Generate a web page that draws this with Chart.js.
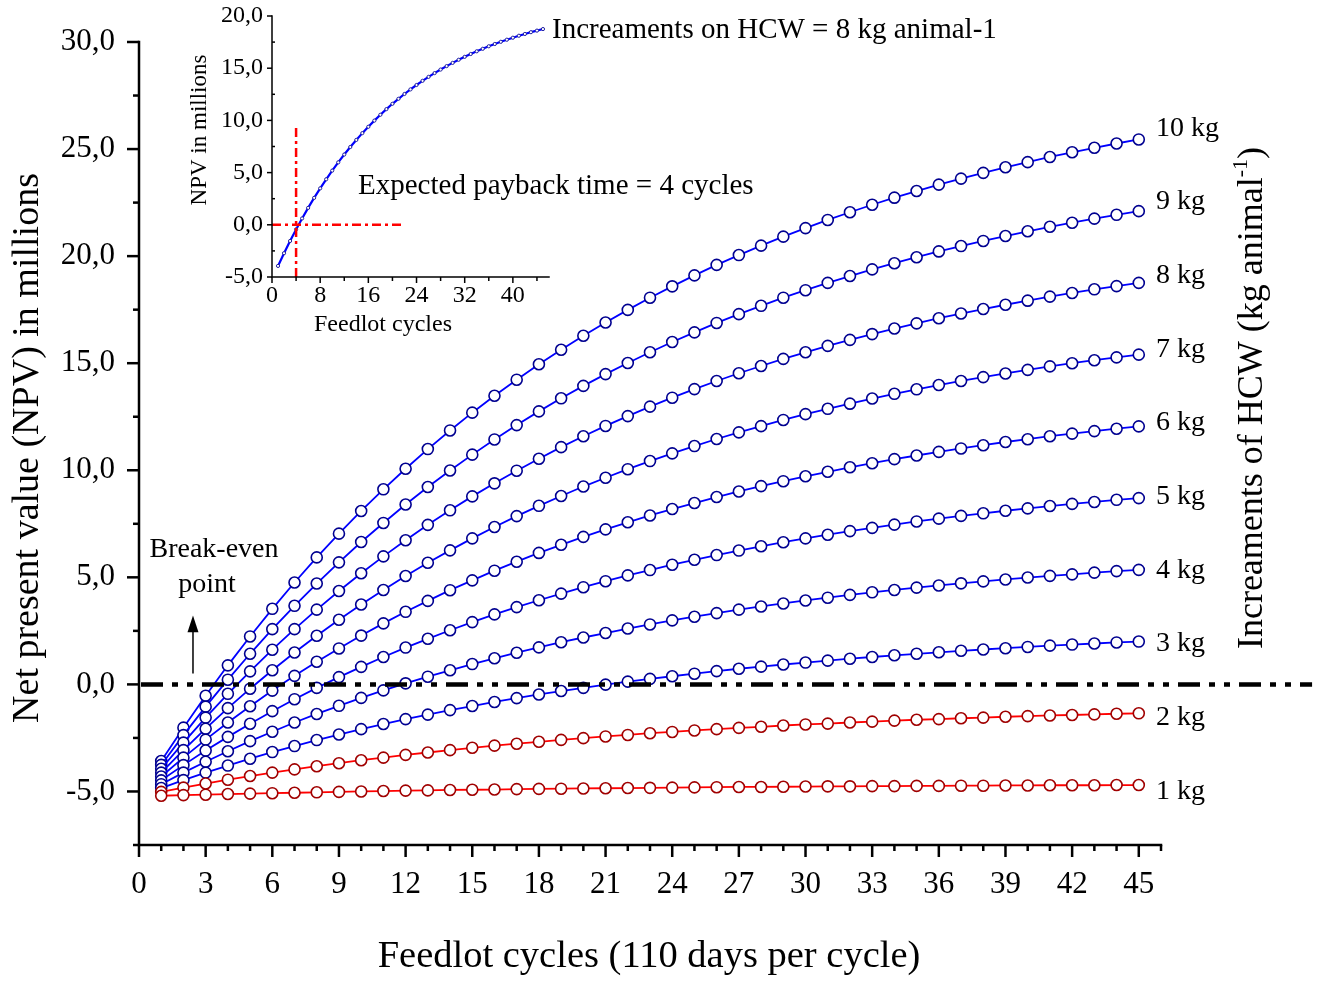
<!DOCTYPE html>
<html>
<head>
<meta charset="utf-8">
<script src="https://cdn.jsdelivr.net/npm/chart.js@4.4.1/dist/chart.umd.min.js"></script>
<style>
  html, body { margin: 0; padding: 0; background: #fff; }
  #wrap { position: relative; width: 1325px; height: 984px; }
  #main { position: absolute; left: 0; top: 0; width: 1325px; height: 984px; }
  #inset { position: absolute; left: 180px; top: 0; width: 400px; height: 345px; }
</style>
</head>
<body>
<div id="wrap">
  <canvas id="main" width="1325" height="984"></canvas>
  <canvas id="inset" width="400" height="345"></canvas>
</div>
<script>
// feedlot cycles (110 days each)
var cycles = [1, 2, 3, 4, 5, 6, 7, 8, 9, 10, 11, 12, 13, 14, 15, 16, 17, 18, 19, 20,
  21, 22, 23, 24, 25, 26, 27, 28, 29, 30, 31, 32, 33, 34, 35, 36, 37, 38, 39, 40,
  41, 42, 43, 44, 45];

// NPV in millions, one array per HCW increment
var kg1 = [-5.20, -5.17, -5.15, -5.12, -5.10, -5.08, -5.06, -5.04, -5.02, -5.00,
  -4.98, -4.96, -4.95, -4.93, -4.92, -4.91, -4.89, -4.88, -4.87, -4.86,
  -4.85, -4.84, -4.83, -4.82, -4.81, -4.80, -4.79, -4.79, -4.78, -4.77,
  -4.76, -4.76, -4.75, -4.75, -4.74, -4.74, -4.73, -4.73, -4.72, -4.72,
  -4.71, -4.71, -4.71, -4.70, -4.70];
var kg2 = [-5.02, -4.82, -4.63, -4.45, -4.28, -4.12, -3.97, -3.82, -3.68, -3.54,
  -3.42, -3.29, -3.18, -3.07, -2.96, -2.86, -2.77, -2.68, -2.59, -2.51,
  -2.43, -2.36, -2.28, -2.22, -2.15, -2.09, -2.03, -1.98, -1.92, -1.87,
  -1.83, -1.78, -1.74, -1.69, -1.65, -1.62, -1.58, -1.55, -1.51, -1.48,
  -1.45, -1.43, -1.40, -1.37, -1.35];
var kg3 = [-4.84, -4.47, -4.12, -3.79, -3.47, -3.16, -2.88, -2.60, -2.34, -2.09,
  -1.85, -1.62, -1.41, -1.20, -1.01, -0.82, -0.64, -0.47, -0.31, -0.16,
  -0.01, 0.13, 0.26, 0.38, 0.50, 0.62, 0.73, 0.83, 0.93, 1.02,
  1.11, 1.20, 1.28, 1.36, 1.43, 1.50, 1.57, 1.63, 1.69, 1.75,
  1.81, 1.86, 1.91, 1.96, 2.00];
var kg4 = [-4.66, -4.12, -3.61, -3.12, -2.65, -2.21, -1.78, -1.38, -1.00, -0.63,
  -0.28, 0.05, 0.36, 0.66, 0.95, 1.22, 1.48, 1.73, 1.97, 2.19,
  2.40, 2.61, 2.80, 2.99, 3.16, 3.33, 3.49, 3.64, 3.78, 3.92,
  4.05, 4.18, 4.30, 4.41, 4.52, 4.62, 4.72, 4.81, 4.90, 4.99,
  5.07, 5.14, 5.22, 5.29, 5.35];
var kg5 = [-4.48, -3.77, -3.09, -2.45, -1.84, -1.25, -0.69, -0.16, 0.34, 0.82,
  1.28, 1.72, 2.13, 2.53, 2.91, 3.27, 3.61, 3.93, 4.24, 4.54,
  4.82, 5.09, 5.34, 5.59, 5.82, 6.04, 6.25, 6.45, 6.64, 6.82,
  6.99, 7.16, 7.31, 7.46, 7.61, 7.74, 7.87, 7.99, 8.11, 8.22,
  8.33, 8.43, 8.52, 8.62, 8.70];
var kg6 = [-4.30, -3.42, -2.58, -1.78, -1.02, -0.29, 0.40, 1.06, 1.68, 2.28,
  2.85, 3.39, 3.90, 4.40, 4.86, 5.31, 5.73, 6.14, 6.52, 6.89,
  7.24, 7.57, 7.89, 8.19, 8.47, 8.75, 9.01, 9.26, 9.49, 9.72,
  9.93, 10.14, 10.33, 10.52, 10.69, 10.86, 11.02, 11.17, 11.32, 11.45,
  11.59, 11.71, 11.83, 11.94, 12.05];
var kg7 = [-4.12, -3.07, -2.07, -1.11, -0.20, 0.66, 1.49, 2.27, 3.02, 3.73,
  4.41, 5.06, 5.68, 6.26, 6.82, 7.35, 7.86, 8.34, 8.80, 9.24,
  9.65, 10.05, 10.43, 10.79, 11.13, 11.46, 11.77, 12.06, 12.35, 12.62,
  12.87, 13.11, 13.35, 13.57, 13.78, 13.98, 14.17, 14.35, 14.52, 14.69,
  14.85, 15.00, 15.14, 15.27, 15.40];
var kg8 = [-3.94, -2.72, -1.55, -0.44, 0.61, 1.62, 2.58, 3.49, 4.36, 5.19,
  5.98, 6.73, 7.45, 8.13, 8.78, 9.39, 9.98, 10.54, 11.08, 11.59,
  12.07, 12.53, 12.97, 13.39, 13.79, 14.17, 14.53, 14.87, 15.20, 15.51,
  15.81, 16.09, 16.36, 16.62, 16.86, 17.10, 17.32, 17.53, 17.73, 17.92,
  18.11, 18.28, 18.45, 18.60, 18.75];
var kg9 = [-3.76, -2.37, -1.04, 0.22, 1.43, 2.58, 3.67, 4.71, 5.70, 6.65,
  7.54, 8.40, 9.22, 9.99, 10.73, 11.44, 12.11, 12.75, 13.36, 13.94,
  14.49, 15.01, 15.51, 15.99, 16.44, 16.88, 17.29, 17.68, 18.06, 18.41,
  18.75, 19.07, 19.38, 19.67, 19.95, 20.22, 20.47, 20.71, 20.94, 21.16,
  21.37, 21.56, 21.75, 21.93, 22.10];
var kg10 = [-3.58, -2.02, -0.53, 0.89, 2.24, 3.53, 4.76, 5.93, 7.04, 8.10,
  9.11, 10.07, 10.99, 11.86, 12.69, 13.48, 14.23, 14.95, 15.63, 16.28,
  16.90, 17.49, 18.06, 18.59, 19.10, 19.59, 20.05, 20.49, 20.91, 21.31,
  21.69, 22.05, 22.40, 22.73, 23.04, 23.34, 23.62, 23.89, 24.15, 24.39,
  24.63, 24.85, 25.06, 25.26, 25.45];

var seriesValues = [kg1, kg2, kg3, kg4, kg5, kg6, kg7, kg8, kg9, kg10];
var seriesNames = ["1 kg", "2 kg", "3 kg", "4 kg", "5 kg", "6 kg", "7 kg", "8 kg", "9 kg", "10 kg"];

// tick labels
var xTicks = [0, 3, 6, 9, 12, 15, 18, 21, 24, 27, 30, 33, 36, 39, 42, 45];
var yTicks = [-5, 0, 5, 10, 15, 20, 25, 30];
var insetXTicks = [0, 8, 16, 24, 32, 40];
var insetYTicks = [-5, 0, 5, 10, 15, 20];

// inset payback guide lines
var paybackCycles = 4;
var paybackV = [{x: 4, y: -5}, {x: 4, y: 9.3}];
var paybackH = [{x: 0, y: 0}, {x: 22, y: 0}];

var SERIF = "'Liberation Serif', 'Times New Roman', serif";
function font(px) { return px + "px " + SERIF; }
function fmt(v) { return v.toFixed(1).replace(".", ","); }

function toPoints(values) {
  return cycles.map(function(c, i) { return {x: c, y: values[i]}; });
}

var mainDecor = {
  id: "mainDecor",
  afterDatasetsDraw: function(chart) {
    var ctx = chart.ctx, a = chart.chartArea;
    var x = chart.scales.x, y = chart.scales.y;
    var y0 = y.getPixelForValue(0);
    ctx.save();

    // break-even line
    ctx.strokeStyle = "#000";
    ctx.lineWidth = 4.5;
    ctx.setLineDash([22, 9, 6, 9, 6, 9]);
    ctx.beginPath();
    ctx.moveTo(a.left + 2, y0);
    ctx.lineTo(x.getPixelForValue(52.8), y0);
    ctx.stroke();
    ctx.setLineDash([]);

    // axes
    ctx.lineWidth = 2.5;
    ctx.lineCap = "square";
    ctx.beginPath();
    ctx.moveTo(a.left, a.top);
    ctx.lineTo(a.left, a.bottom);
    ctx.lineTo(a.right, a.bottom);
    ctx.stroke();
    ctx.lineCap = "butt";
    for (var v = -7.5; v <= 30.01; v += 2.5) {
      var py = y.getPixelForValue(v);
      var len = Math.abs(v % 5) < 0.01 ? 12 : 6;
      ctx.beginPath(); ctx.moveTo(a.left, py); ctx.lineTo(a.left - len, py); ctx.stroke();
    }
    for (var t = 0; t <= 46; t++) {
      var px = x.getPixelForValue(t);
      var tl = t % 3 === 0 ? 12 : 6;
      ctx.beginPath(); ctx.moveTo(px, a.bottom); ctx.lineTo(px, a.bottom + tl); ctx.stroke();
    }

    // tick labels
    ctx.fillStyle = "#000";
    ctx.font = font(31);
    ctx.textAlign = "right";
    ctx.textBaseline = "middle";
    yTicks.forEach(function(v) { ctx.fillText(fmt(v), a.left - 24, y.getPixelForValue(v)); });
    ctx.textAlign = "center";
    xTicks.forEach(function(v) { ctx.fillText(String(v), x.getPixelForValue(v), a.bottom + 40); });

    // axis titles
    ctx.font = font(38.5);
    ctx.fillText("Feedlot cycles (110 days per cycle)", 649, 957);
    ctx.save();
    ctx.translate(28, 448);
    ctx.rotate(-Math.PI / 2);
    ctx.font = font(38);
    ctx.fillText("Net present value (NPV) in millions", 0, 0);
    ctx.restore();

    // right title with superscript
    ctx.save();
    ctx.translate(1253, 398);
    ctx.rotate(-Math.PI / 2);
    var p1 = "Increaments of HCW (kg animal", p2 = "-1", p3 = ")";
    ctx.font = font(36); var w1 = ctx.measureText(p1).width, w3 = ctx.measureText(p3).width;
    ctx.font = font(22); var w2 = ctx.measureText(p2).width;
    var sx = -(w1 + w2 + w3) / 2;
    ctx.textAlign = "left";
    ctx.font = font(36); ctx.fillText(p1, sx, 0);
    ctx.font = font(22); ctx.fillText(p2, sx + w1, -12);
    ctx.font = font(36); ctx.fillText(p3, sx + w1 + w2, 0);
    ctx.restore();

    // series labels at the right end
    ctx.font = font(28);
    ctx.textAlign = "left";
    seriesValues.forEach(function(vals, i) {
      var k = i + 1;
      var py = y.getPixelForValue(vals[vals.length - 1]) - 11 + (10 - k) * 1.9;
      ctx.fillText(seriesNames[i], 1156, py);
    });

    // break-even note and arrow
    ctx.font = font(28);
    ctx.textAlign = "center";
    ctx.fillText("Break-even", 214, 550);
    ctx.fillText("point", 207, 585);
    var ax = x.getPixelForValue(2.43);
    ctx.lineWidth = 1.5;
    ctx.beginPath();
    ctx.moveTo(ax, y.getPixelForValue(0.51));
    ctx.lineTo(ax, y.getPixelForValue(2.5));
    ctx.stroke();
    ctx.beginPath();
    ctx.moveTo(ax, y.getPixelForValue(3.22));
    ctx.lineTo(ax - 5.5, y.getPixelForValue(2.43));
    ctx.lineTo(ax + 5.5, y.getPixelForValue(2.43));
    ctx.closePath();
    ctx.fill();

    // inset notes
    ctx.textAlign = "left";
    ctx.font = font(29);
    ctx.fillText("Increaments on HCW = 8 kg animal-1", 552, 30);
    ctx.fillText("Expected payback time = " + paybackCycles + " cycles", 358, 186);

    ctx.restore();
  }
};

var insetDecor = {
  id: "insetDecor",
  afterDatasetsDraw: function(chart) {
    var ctx = chart.ctx, a = chart.chartArea;
    var x = chart.scales.x, y = chart.scales.y;
    ctx.save();
    ctx.strokeStyle = "#000";
    ctx.fillStyle = "#000";
    ctx.lineWidth = 1.5;
    ctx.lineCap = "square";
    ctx.beginPath();
    ctx.moveTo(a.left, a.top);
    ctx.lineTo(a.left, a.bottom);
    ctx.lineTo(a.right, a.bottom);
    ctx.stroke();
    ctx.lineCap = "butt";
    for (var v = -5; v <= 20.01; v += 2.5) {
      var py = y.getPixelForValue(v);
      if (Math.abs(v % 5) < 0.01) {
        ctx.beginPath(); ctx.moveTo(a.left, py); ctx.lineTo(a.left - 5, py); ctx.stroke();
      } else {
        ctx.beginPath(); ctx.moveTo(a.left, py); ctx.lineTo(a.left + 3, py); ctx.stroke();
      }
    }
    for (var t = 0; t <= 44; t += 4) {
      var px = x.getPixelForValue(t);
      var tl = t % 8 === 0 ? 6 : 4;
      ctx.beginPath(); ctx.moveTo(px, a.bottom); ctx.lineTo(px, a.bottom + tl); ctx.stroke();
    }
    ctx.font = font(24);
    ctx.textAlign = "right";
    ctx.textBaseline = "middle";
    insetYTicks.forEach(function(v) { ctx.fillText(fmt(v), a.left - 9, y.getPixelForValue(v)); });
    ctx.textAlign = "center";
    insetXTicks.forEach(function(v) { ctx.fillText(String(v), x.getPixelForValue(v), a.bottom + 19); });
    ctx.font = font(24);
    ctx.fillText("Feedlot cycles", 203, 325);
    ctx.save();
    ctx.translate(20, 130);
    ctx.rotate(-Math.PI / 2);
    ctx.font = font(23);
    ctx.fillText("NPV in millions", 0, 0);
    ctx.restore();
    ctx.restore();
  }
};

var mainDatasets = seriesValues.map(function(vals, i) {
  var red = i < 2;
  return {
    label: seriesNames[i],
    data: toPoints(vals),
    borderColor: red ? "#ff0000" : "#0000ff",
    borderWidth: 1.8,
    pointRadius: 5.5,
    pointBorderWidth: 1.6,
    pointBackgroundColor: "#ffffff",
    pointBorderColor: red ? "#a00000" : "#000090",
    tension: 0
  };
});

new Chart(document.getElementById("main"), {
  type: "line",
  data: { datasets: mainDatasets },
  options: {
    responsive: false,
    animation: false,
    devicePixelRatio: 1,
    layout: { padding: { left: 139, right: 164, top: 42, bottom: 139 } },
    scales: {
      x: { type: "linear", min: 0, max: 46, display: false },
      y: { type: "linear", min: -7.5, max: 30, display: false }
    },
    plugins: { legend: { display: false }, tooltip: { enabled: false } }
  },
  plugins: [mainDecor]
});

new Chart(document.getElementById("inset"), {
  type: "line",
  data: {
    datasets: [
      { data: paybackV, borderColor: "#ff0000", borderWidth: 2.5, borderDash: [9, 4, 3, 4], pointRadius: 0 },
      { data: paybackH, borderColor: "#ff0000", borderWidth: 2.5, borderDash: [9, 4, 3, 4], pointRadius: 0 },
      {
        label: "8 kg",
        data: toPoints(kg8),
        borderColor: "#0000ff",
        borderWidth: 2.2,
        pointRadius: 1.6,
        pointBorderWidth: 1,
        pointBackgroundColor: "#ffffff",
        pointBorderColor: "#2020a0",
        tension: 0
      }
    ]
  },
  options: {
    responsive: false,
    animation: false,
    devicePixelRatio: 1,
    layout: { padding: { left: 92, right: 31, top: 16, bottom: 68 } },
    scales: {
      x: { type: "linear", min: 0, max: 46, display: false },
      y: { type: "linear", min: -5, max: 20, display: false }
    },
    plugins: { legend: { display: false }, tooltip: { enabled: false } }
  },
  plugins: [insetDecor]
});
</script>
</body>
</html>
